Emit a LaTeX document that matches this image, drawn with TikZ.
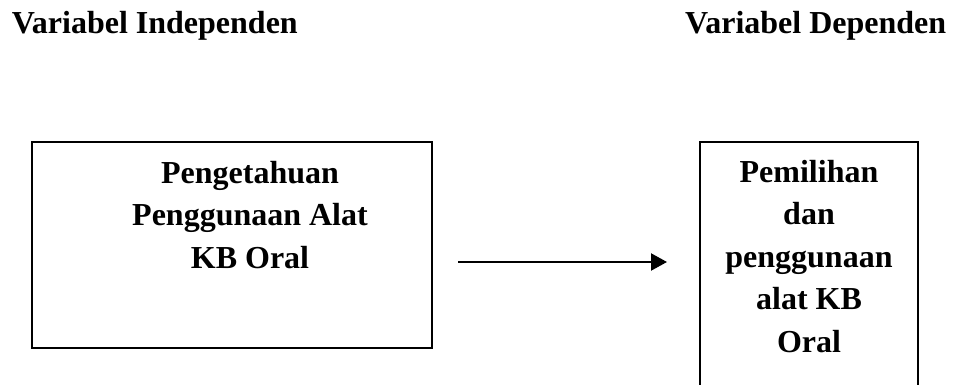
\documentclass[tikz,border=0pt]{standalone}
\usepackage{fontspec}
\setmainfont{Liberation Serif}
\usetikzlibrary{positioning, arrows.meta}

\begin{document}
\begin{tikzpicture}[x=1pt, y=-1pt, line width=1.6pt,
   font=\bfseries\fontsize{32}{42.5}\selectfont,
   varbox/.style={draw, inner sep=0pt},
   varlabel/.style={anchor=base, align=center, inner sep=0pt}]
   \useasboundingbox (0,0) rectangle (954,385);
   \clip (0,0) rectangle (954,385);

   % Headings
   \node[anchor=base west, inner sep=0pt] (indep) at (11,34) {Variabel Independen};
   \node[anchor=base east, inner sep=0pt] (dep) at (947,34) {Variabel Dependen};

   % Boxes
   \node[varbox, minimum width=400pt, minimum height=206pt] (pengetahuan) at (232,245) {};
   \node[varbox, minimum width=218pt, minimum height=260pt] (pemilihan) at (809,272) {};

   % Box texts (anchored on their last line)
   \node[varlabel] (pengetahuantxt) at (250,268) {Pengetahuan\\Penggunaan Alat\\KB Oral};
   \node[varlabel] (pemilihantxt) at (809,352) {Pemilihan\\dan\\penggunaan\\alat KB\\Oral};

   % Arrow
   \coordinate (arrstart) at (458,262);
   \coordinate (arrend) at (667,262);
   \draw[line width=2.2pt, -{Triangle[length=16pt, width=17pt]}] (arrstart) -- (arrend);
\end{tikzpicture}
\end{document}
